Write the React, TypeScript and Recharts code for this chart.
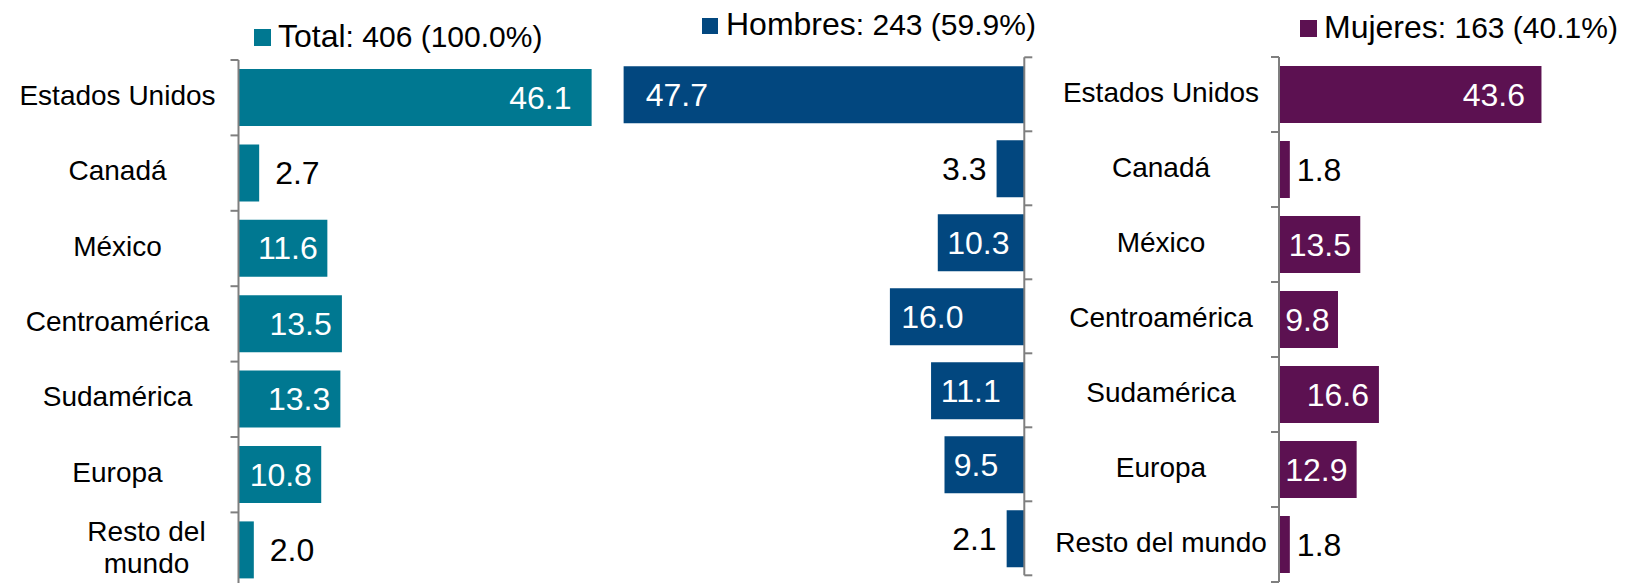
import React from "react";
import { Bar, BarChart, LabelList, XAxis, YAxis } from "recharts";

const categories = ["Estados Unidos", "Canadá", "México", "Centroamérica", "Sudamérica", "Europa", "Resto del mundo"];
const totalPct = [46.1, 2.7, 11.6, 13.5, 13.3, 10.8, 2.0];
const hombresPct = [47.7, 3.3, 10.3, 16.0, 11.1, 9.5, 2.1];
const mujeresPct = [43.6, 1.8, 13.5, 9.8, 16.6, 12.9, 1.8];

const seriesNames = ["Total", "Hombres", "Mujeres"];
const seriesCounts = [406, 243, 163];
const seriesShares = [100.0, 59.9, 40.1];

const COLORS = ["#007891", "#02477f", "#5c1151"];
const AXIS = "#7f7f7f";
const FONT = '"Liberation Sans", Arial, sans-serif';

const rows = categories.map((name, i) => ({
  name,
  total: totalPct[i],
  hombres: hombresPct[i],
  mujeres: mujeresPct[i],
}));
const axisStyle = { stroke: AXIS, strokeWidth: 2 };

function valueLabel(dir: "right" | "left", outGap: number) {
  return (props: any) => {
    const { x, y, width, height, value } = props;
    const left = Math.min(x, x + width);
    const right = Math.max(x, x + width);
    const inside = value >= 5;
    // inner padding grows a bit with the bar length, like the original
    const pad = 6 + 0.04 * (right - left);
    let tx: number;
    let anchor: "start" | "end";
    if (dir === "right") {
      tx = inside ? right - pad : right + outGap;
      anchor = inside ? "end" : "start";
    } else {
      tx = inside ? left + pad : left - outGap;
      anchor = inside ? "start" : "end";
    }
    return (
      <text x={tx} y={y + height / 2} textAnchor={anchor} dominantBaseline="central"
        fill={inside ? "#ffffff" : "#000000"} fontSize={32} fontFamily={FONT}>
        {Number(value).toFixed(1)}
      </text>
    );
  };
}

// category tick: label plus Excel-style tick marks at the band edges
function CategoryTick(props: any) {
  const { x, y, payload, index, visibleTicksCount, offset, wrapOffset, wrap, side, showLabel } = props;
  const half = payload.offset ?? 0;
  const label = String(payload.value);
  const cut = label.lastIndexOf(" ");
  const lines = wrap && label.length > 14 ? [label.slice(0, cut), label.slice(cut + 1)] : [label];
  const cx = x + (lines.length > 1 ? wrapOffset : offset);
  const edges = index === visibleTicksCount - 1 ? [y - half, y + half] : [y - half];
  return (
    <g>
      {edges.map((ey, i) => (
        <line key={i} x1={x} x2={x + side * 8} y1={ey} y2={ey} stroke={AXIS} strokeWidth={2} />
      ))}
      {showLabel && (
        <text x={cx} y={y - 3} textAnchor="middle" dominantBaseline="central" fontSize={28} fontFamily={FONT} fill="#000">
          {lines.map((l, i) => (
            <tspan key={i} x={cx} dy={i === 0 ? -(lines.length - 1) * 16 : 32}>{l}</tspan>
          ))}
        </text>
      )}
    </g>
  );
}

function Legends() {
  const spots = [
    { sq: [254, 29, 17], tx: 278, ty: 46.5 },
    { sq: [702, 18, 16], tx: 726, ty: 35 },
    { sq: [1300, 20, 17], tx: 1324, ty: 38.3 },
  ];
  return (
    <svg width={1626} height={583} style={{ position: "absolute", left: 0, top: 0, pointerEvents: "none" }}>
      {seriesNames.map((s, i) => (
        <g key={s}>
          <rect x={spots[i].sq[0]} y={spots[i].sq[1]} width={spots[i].sq[2]} height={spots[i].sq[2]} fill={COLORS[i]} />
          <text x={spots[i].tx} y={spots[i].ty} fontFamily={FONT} fill="#000">
            <tspan fontSize={32}>{s}</tspan>
            <tspan fontSize={30}>{`: ${seriesCounts[i]} (${seriesShares[i].toFixed(1)}%)`}</tspan>
          </text>
        </g>
      ))}
    </svg>
  );
}

export default function App() {
  return (
    <div style={{ position: "absolute", left: 0, top: 0, width: 1626, height: 583, overflow: "hidden", background: "#fff", fontFamily: FONT }}>
      {/* Total */}
      <div style={{ position: "absolute", left: 0, top: 0 }}>
        <BarChart layout="vertical" width={640} height={600} data={rows} barSize={57}
          margin={{ top: 60, right: 18.5, bottom: 12.2, left: 0 }}>
          <XAxis type="number" domain={[0, 50]} hide />
          <YAxis type="category" dataKey="name" width={238.5} interval={0}
            axisLine={axisStyle} tickLine={false} tickSize={0} tickMargin={0}
            tick={<CategoryTick offset={-121} wrapOffset={-92} wrap side={-1} showLabel />} />
          <Bar dataKey="total" fill={COLORS[0]} isAnimationActive={false}>
            <LabelList dataKey="total" content={valueLabel("right", 16)} />
          </Bar>
        </BarChart>
      </div>

      {/* Hombres */}
      <div style={{ position: "absolute", left: 560, top: 0 }}>
        <BarChart layout="vertical" width={500} height={600} data={rows} barSize={57}
          margin={{ top: 57.3, right: 25.7, bottom: 24.7, left: 44.3 }}>
          <XAxis type="number" domain={[0, 50]} reversed hide />
          <YAxis type="category" dataKey="name" orientation="right" width={10} interval={0}
            axisLine={axisStyle} tickLine={false} tickSize={0} tickMargin={0}
            tick={<CategoryTick offset={0} wrapOffset={0} side={1} showLabel={false} />} />
          <Bar dataKey="hombres" fill={COLORS[1]} isAnimationActive={false}>
            <LabelList dataKey="hombres" content={valueLabel("left", 10)} />
          </Bar>
        </BarChart>
      </div>

      {/* Mujeres */}
      <div style={{ position: "absolute", left: 1030, top: 0 }}>
        <BarChart layout="vertical" width={596} height={600} data={rows} barSize={57}
          margin={{ top: 57, right: 46, bottom: 18, left: 0 }}>
          <XAxis type="number" domain={[0, 50]} hide />
          <YAxis type="category" dataKey="name" width={249} interval={0}
            axisLine={axisStyle} tickLine={false} tickSize={0} tickMargin={0}
            tick={<CategoryTick offset={-118} wrapOffset={-118} side={-1} showLabel />} />
          <Bar dataKey="mujeres" fill={COLORS[2]} isAnimationActive={false}>
            <LabelList dataKey="mujeres" content={valueLabel("right", 7)} />
          </Bar>
        </BarChart>
      </div>

      <Legends />
    </div>
  );
}
